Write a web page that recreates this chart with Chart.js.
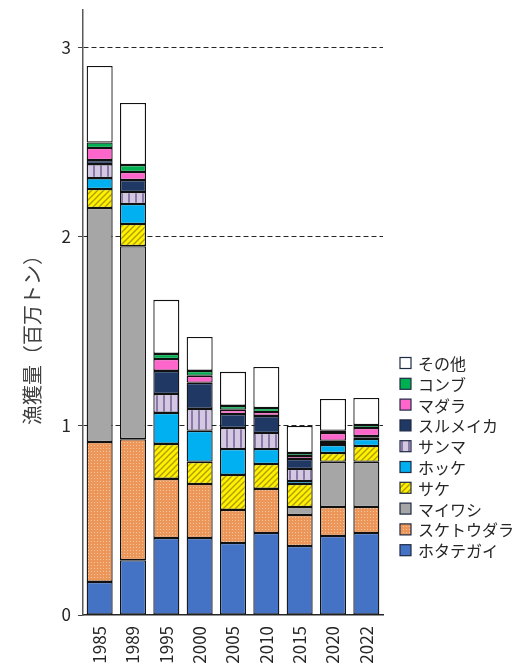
<!DOCTYPE html>
<html lang="ja">
<head>
<meta charset="utf-8">
<title>漁獲量</title>
<script src="https://cdn.jsdelivr.net/npm/chart.js@4.4.1/dist/chart.umd.min.js"></script>
<style>
    html, body { margin: 0; padding: 0; background: #fff; }
    #wrap { width: 531px; height: 666px; }
</style>
</head>
<body>
<div id="wrap"><canvas id="chart" width="531" height="666"></canvas></div>
<script>
// Categories (years)
const years = ['1985', '1989', '1995', '2000', '2005', '2010', '2015', '2020', '2022'];

// Catch by species (million tonnes), bottom of stack first
const hotategai   = [0.175, 0.290, 0.407, 0.407, 0.381, 0.434, 0.365, 0.418, 0.434];
const suketoudara = [0.740, 0.640, 0.313, 0.286, 0.175, 0.233, 0.164, 0.153, 0.137];
const maiwashi    = [1.238, 1.021, 0.000, 0.000, 0.000, 0.000, 0.042, 0.239, 0.239];
const sake        = [0.100, 0.117, 0.185, 0.117, 0.185, 0.132, 0.122, 0.047, 0.084];
const hokke       = [0.058, 0.106, 0.164, 0.164, 0.137, 0.079, 0.016, 0.042, 0.037];
const sanma       = [0.074, 0.063, 0.100, 0.116, 0.111, 0.085, 0.063, 0.011, 0.006];
const surumeika   = [0.021, 0.064, 0.122, 0.138, 0.074, 0.090, 0.053, 0.011, 0.010];
const madara      = [0.064, 0.042, 0.063, 0.037, 0.022, 0.021, 0.016, 0.042, 0.042];
const konbu       = [0.029, 0.037, 0.027, 0.026, 0.021, 0.021, 0.016, 0.011, 0.016];
const sonota      = [0.405, 0.328, 0.286, 0.180, 0.180, 0.217, 0.143, 0.169, 0.143];

// Y axis tick labels
const yTicks = [0, 1, 2, 3];

const FONT = '"Noto Sans CJK JP", "Noto Sans", sans-serif';
const TEXT = '#262626';

/**
 * Build small canvas fill patterns
 */
function makePattern(kind) {
    const c = document.createElement('canvas');
    const g = c.getContext('2d');
    if (kind === 'dots') {
        c.width = 3; c.height = 3;
        g.fillStyle = '#EC965A';
        g.fillRect(0, 0, 3, 3);
        g.fillStyle = '#F7C69C';
        g.fillRect(1, 1, 1, 1);
    } else if (kind === 'diag') {
        c.width = 6; c.height = 6;
        g.fillStyle = '#FFF200';
        g.fillRect(0, 0, 6, 6);
        g.strokeStyle = '#B09C00';
        g.lineWidth = 1.4;
        g.beginPath();
        g.moveTo(-1, 7); g.lineTo(7, -1);
        g.moveTo(-1, 1); g.lineTo(1, -1);
        g.moveTo(5, 7); g.lineTo(7, 5);
        g.stroke();
    } else if (kind === 'vert') {
        c.width = 7; c.height = 2;
        g.fillStyle = '#D3C8E2';
        g.fillRect(0, 0, 7, 2);
        g.fillStyle = '#8B78A8';
        g.fillRect(2, 0, 2, 2);
    }
    return g.createPattern(c, 'repeat');
}

const series = [
    { label: 'ホタテガイ', data: hotategai, color: '#4472C4' },
    { label: 'スケトウダラ', data: suketoudara, color: makePattern('dots') },
    { label: 'マイワシ', data: maiwashi, color: '#A6A6A6' },
    { label: 'サケ', data: sake, color: makePattern('diag') },
    { label: 'ホッケ', data: hokke, color: '#00B0F0' },
    { label: 'サンマ', data: sanma, color: makePattern('vert') },
    { label: 'スルメイカ', data: surumeika, color: '#203864' },
    { label: 'マダラ', data: madara, color: '#FF66CC' },
    { label: 'コンブ', data: konbu, color: '#00B050' },
    { label: 'その他', data: sonota, color: '#FFFFFF' }
];

// Legend on the right, top item = last dataset
const sideLegend = {
    id: 'sideLegend',
    afterDraw(chart) {
        const ctx = chart.ctx;
        const sets = chart.data.datasets;
        ctx.save();
        ctx.font = '16px ' + FONT;
        ctx.textBaseline = 'middle';
        ctx.textAlign = 'left';
        let row = 0;
        for (let i = sets.length - 1; i >= 0; i--) {
            const y = 363 + row * 20.8;
            ctx.fillStyle = sets[i].backgroundColor;
            ctx.fillRect(400, y - 5.5, 11, 11);
            ctx.strokeStyle = '#1F2A44';
            ctx.lineWidth = 1.2;
            ctx.strokeRect(400, y - 5.5, 11, 11);
            ctx.fillStyle = TEXT;
            ctx.fillText(sets[i].label, 418, y + 1);
            row++;
        }
        ctx.restore();
    }
};

// Rotated y axis title
const yTitle = {
    id: 'yTitle',
    afterDraw(chart) {
        const ctx = chart.ctx;
        ctx.save();
        ctx.translate(32, 335);
        ctx.rotate(-Math.PI / 2);
        ctx.font = '20px ' + FONT;
        ctx.fillStyle = '#404040';
        ctx.textAlign = 'center';
        ctx.textBaseline = 'middle';
        ctx.fillText('漁獲量（百万トン）', 0, 0);
        ctx.restore();
    }
};

const ctx = document.getElementById('chart').getContext('2d');
new Chart(ctx, {
    type: 'bar',
    data: {
        labels: years,
        datasets: series.map(s => ({
            label: s.label,
            data: s.data,
            backgroundColor: s.color,
            borderColor: '#111111',
            borderWidth: 1.3,
            borderSkipped: false,
            barPercentage: 0.78,
            categoryPercentage: 1.0
        }))
    },
    options: {
        responsive: false,
        devicePixelRatio: 1,
        animation: false,
        layout: { padding: { top: 10, right: 148, left: 0, bottom: 0 } },
        plugins: {
            legend: { display: false },
            tooltip: { enabled: false }
        },
        scales: {
            x: {
                stacked: true,
                grid: { display: false, drawTicks: false },
                border: { display: true, color: '#262626', width: 1.5 },
                ticks: {
                    color: TEXT,
                    font: { family: FONT, size: 17 },
                    minRotation: 90,
                    maxRotation: 90,
                    padding: 11
                },
                afterFit: scale => {
                    scale.height = 51;
                    scale.paddingLeft = 0;
                    scale.paddingRight = 0;
                }
            },
            y: {
                stacked: true,
                min: 0,
                max: 3.2,
                afterBuildTicks: scale => {
                    scale.ticks = yTicks.map(v => ({ value: v }));
                },
                ticks: {
                    color: TEXT,
                    font: { family: FONT, size: 17 },
                    padding: 7
                },
                grid: {
                    color: c => (c.tick && c.tick.value === 0) ? 'rgba(0,0,0,0)' : '#262626',
                    tickColor: '#404040',
                    tickLength: 5,
                    lineWidth: 1
                },
                border: { display: true, color: '#595959', width: 1.5, dash: [5, 3] },
                afterFit: scale => {
                    scale.width = 83;
                    scale.paddingTop = 0;
                    scale.paddingBottom = 0;
                }
            }
        }
    },
    plugins: [sideLegend, yTitle]
});
</script>
</body>
</html>
